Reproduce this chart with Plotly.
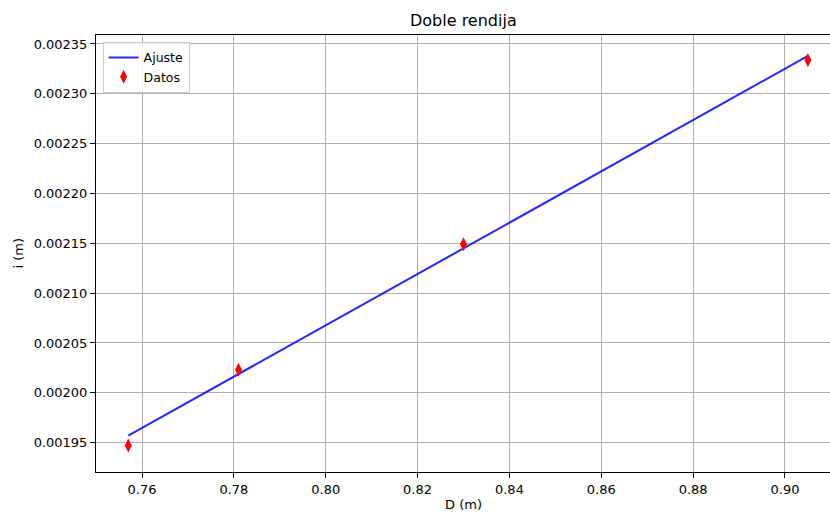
import plotly.graph_objects as go

# Data
D_data = [0.757, 0.781, 0.830, 0.905]
i_data = [0.001947, 0.002023, 0.002149, 0.002334]

# Fitted line endpoints
D_fit = [0.757, 0.905]
i_fit = [0.001957, 0.002338]

x_ticks = [0.76, 0.78, 0.80, 0.82, 0.84, 0.86, 0.88, 0.90]
y_ticks = [0.00195, 0.00200, 0.00205, 0.00210, 0.00215, 0.00220, 0.00225, 0.00230, 0.00235]

FONT = "DejaVu Sans"
TICK = 13
TITLE = 16

fig = go.Figure()
fig.add_trace(go.Scatter(
    x=D_fit, y=i_fit, mode="lines", name="Ajuste",
    line=dict(color="rgba(0,0,255,0.85)", width=2),
))
fig.add_trace(go.Scatter(
    x=D_data, y=i_data, mode="markers", name="Datos",
    marker=dict(symbol="diamond-tall", color="red", size=10, line=dict(width=0)),
))

fig.update_layout(
    width=830, height=513,
    margin=dict(l=96, r=0, t=35, b=41),
    paper_bgcolor="white", plot_bgcolor="white",
    font=dict(family=FONT, size=TICK, color="black"),
    showlegend=True,
    legend=dict(
        x=0.009, y=0.984, xanchor="left", yanchor="top",
        bgcolor="rgba(255,255,255,0.8)", bordercolor="#cccccc", borderwidth=1,
        font=dict(family=FONT, size=12.5, color="black"),
        tracegroupgap=0, itemwidth=30,
    ),
    xaxis=dict(
        range=[0.74997, 0.90981], tickvals=x_ticks, tickformat=".2f",
        showgrid=True, gridcolor="#b0b0b0", gridwidth=1,
        showline=True, linecolor="black", linewidth=1, mirror=True,
        ticks="outside", ticklen=5, tickcolor="black", zeroline=False,
        tickfont=dict(family=FONT, size=TICK, color="black"),
    ),
    yaxis=dict(
        range=[0.0019205, 0.002359], tickvals=y_ticks, tickformat=".5f",
        showgrid=True, gridcolor="#b0b0b0", gridwidth=1,
        showline=True, linecolor="black", linewidth=1, mirror=False,
        ticks="outside", ticklen=5, tickcolor="black", zeroline=False,
        tickfont=dict(family=FONT, size=TICK, color="black"),
    ),
    annotations=[
        dict(text="Doble rendija", xref="paper", yref="paper", x=0.5, y=1,
             yshift=15, showarrow=False, xanchor="center", yanchor="middle",
             font=dict(family=FONT, size=TITLE, color="black")),
        dict(text="D (m)", xref="paper", yref="paper", x=0.5, y=0,
             yshift=-32, showarrow=False, xanchor="center", yanchor="middle",
             font=dict(family=FONT, size=TICK, color="black")),
        dict(text="i (m)", xref="paper", yref="paper", x=0, y=0.5,
             xshift=-78, showarrow=False, xanchor="center", yanchor="middle",
             textangle=-90, font=dict(family=FONT, size=TICK, color="black")),
    ],
)

fig.write_html("out.html")
